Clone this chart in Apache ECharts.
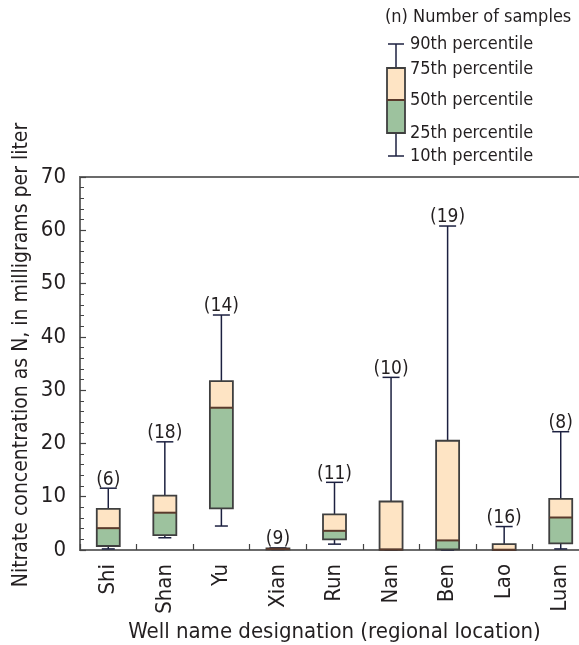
<!DOCTYPE html>
<html>
<head>
<meta charset="utf-8">
<script src="https://cdn.jsdelivr.net/npm/echarts@6/dist/echarts.min.js"></script>
<style>html,body{margin:0;padding:0;background:#fff}#c{width:579px;height:645px}</style>
</head>
<body>
<div id="c"></div>
<script>
const categories = ['Shi','Shan','Yu','Xian','Run','Nan','Ben','Lao','Luan'];
const p10 = [0.2, 2.3, 4.5, 0.1, 1.1, 0.0, 0.0, 0.0, 0.2];
const p25 = [0.75, 2.8, 7.8, 0.1, 2.0, 0.05, 0.1, 0.0, 1.25];
const p50 = [4.1, 7.0, 26.7, 0.2, 3.6, 0.1, 1.8, 0.05, 6.1];
const p75 = [7.7, 10.2, 31.7, 0.3, 6.7, 9.1, 20.5, 1.1, 9.6];
const p90 = [11.6, 20.3, 44.1, 0.4, 12.7, 32.4, 60.8, 4.4, 22.2];
const nSamples = [6, 18, 14, 9, 11, 10, 19, 16, 8];
const yTicks = [0, 10, 20, 30, 40, 50, 60, 70];
const legendLabels = ['90th percentile','75th percentile','50th percentile','25th percentile','10th percentile'];

const FONT = '"Liberation Sans Narrow","DejaVu Sans Condensed",sans-serif';
const TXT = '#231f20';
const PEACH = '#fee4c4';
const GREEN = '#9dc29e';
const BORDER = '#3f3f3f';
const MEDIAN = '#5a3a2c';
const WHISK = '#1c2040';
const AXIS = '#6b6b6b';

const chart = echarts.init(document.getElementById('c'), null, {renderer: 'canvas'});

function renderItem(params, api) {
  const i = api.value(0);
  const x = api.coord([i, 0])[0];
  const y10 = api.coord([i, api.value(1)])[1];
  const y25 = api.coord([i, api.value(2)])[1];
  const y50 = api.coord([i, api.value(3)])[1];
  const y75 = api.coord([i, api.value(4)])[1];
  const y90 = api.coord([i, api.value(5)])[1];
  const n = api.value(6);
  const bw = 23, capTop = 17, capBot = 13;
  const ls = {stroke: WHISK, lineWidth: 1.5};
  return {
    type: 'group',
    children: [
      {type: 'line', shape: {x1: x, y1: y90, x2: x, y2: y75}, style: ls},
      {type: 'line', shape: {x1: x, y1: y25, x2: x, y2: y10}, style: ls},
      {type: 'line', shape: {x1: x - capTop/2, y1: y90, x2: x + capTop/2, y2: y90}, style: ls},
      {type: 'line', shape: {x1: x - capBot/2, y1: y10, x2: x + capBot/2, y2: y10}, style: ls},
      {type: 'rect', shape: {x: x - bw/2, y: y50, width: bw, height: y25 - y50}, style: {fill: GREEN}},
      {type: 'rect', shape: {x: x - bw/2, y: y75, width: bw, height: y50 - y75}, style: {fill: PEACH}},
      {type: 'rect', shape: {x: x - bw/2, y: y75, width: bw, height: Math.max(y25 - y75, 1)}, style: {fill: null, stroke: BORDER, lineWidth: 1.8}},
      {type: 'line', shape: {x1: x - bw/2, y1: y50, x2: x + bw/2, y2: y50}, style: {stroke: MEDIAN, lineWidth: 2}},
      {type: 'text', style: {x: x, y: y90 + 1, text: '(' + n + ')', fill: TXT, font: '19px ' + FONT, textAlign: 'center', textVerticalAlign: 'bottom'}}
    ]
  };
}

const data = categories.map((c, i) => [i, p10[i], p25[i], p50[i], p75[i], p90[i], nSamples[i]]);

// legend graphic
const lg = [];
const lx = 396;
lg.push({type: 'text', left: 385, top: 8, style: {text: '(n) Number of samples', fill: TXT, font: '18px ' + FONT}});
lg.push({type: 'line', shape: {x1: lx, y1: 44, x2: lx, y2: 156}, style: {stroke: WHISK, lineWidth: 1.5}});
lg.push({type: 'line', shape: {x1: lx - 8, y1: 44, x2: lx + 8, y2: 44}, style: {stroke: WHISK, lineWidth: 1.5}});
lg.push({type: 'line', shape: {x1: lx - 8, y1: 156, x2: lx + 8, y2: 156}, style: {stroke: WHISK, lineWidth: 1.5}});
lg.push({type: 'rect', shape: {x: 387, y: 68, width: 18, height: 32}, style: {fill: PEACH}});
lg.push({type: 'rect', shape: {x: 387, y: 100, width: 18, height: 33}, style: {fill: GREEN}});
lg.push({type: 'rect', shape: {x: 387, y: 68, width: 18, height: 65}, style: {fill: null, stroke: BORDER, lineWidth: 1.8}});
lg.push({type: 'line', shape: {x1: 387, y1: 100, x2: 405, y2: 100}, style: {stroke: MEDIAN, lineWidth: 2}});
const ly = [44, 69, 100, 133, 156];
legendLabels.forEach((t, k) => {
  lg.push({type: 'text', style: {x: 410, y: ly[k], text: t, fill: TXT, font: '18px ' + FONT, textVerticalAlign: 'middle'}});
});
lg.push({type: 'text', rotation: Math.PI / 2, x: 22, y: 355, style: {x: 0, y: 0, text: 'Nitrate concentration as N, in milligrams per liter', fill: TXT, font: '21px ' + FONT, textAlign: 'center', textVerticalAlign: 'middle'}});

chart.setOption({
  animation: false,
  backgroundColor: '#fff',
  grid: {left: 80, top: 177, width: 509, bottom: 95, show: true, borderColor: AXIS, borderWidth: 2, backgroundColor: 'transparent', containLabel: false, outerBoundsMode: 'none'},
  xAxis: {
    type: 'category', data: categories, boundaryGap: true,
    name: 'Well name designation (regional location)', nameLocation: 'middle', nameGap: 70,
    nameTextStyle: {fontFamily: FONT, fontSize: 22, color: TXT},
    axisLine: {show: true, lineStyle: {color: AXIS, width: 2}},
    axisTick: {show: true, inside: true, length: 6, lineStyle: {color: '#444', width: 1.2}},
    axisLabel: {rotate: 90, margin: 14, fontFamily: FONT, fontSize: 22, color: TXT},
    splitLine: {show: false}
  },
  yAxis: {
    type: 'value', min: 0, max: 70, interval: 10,
    axisLine: {show: true, lineStyle: {color: AXIS, width: 2}},
    axisTick: {show: true, inside: true, length: 6, lineStyle: {color: '#444', width: 1.2}},
    minorTick: {show: true, splitNumber: 5, length: 4, lineStyle: {color: '#444', width: 1}},
    axisLabel: {margin: 14, fontFamily: FONT, fontSize: 22, color: TXT, formatter: v => yTicks.includes(v) ? String(v) : ''},
    splitLine: {show: false}
  },
  graphic: lg,
  series: [{
    type: 'custom', renderItem: renderItem, data: data,
    encode: {x: 0, y: [1, 2, 3, 4, 5]}, clip: false
  }]
});
</script>
</body>
</html>
